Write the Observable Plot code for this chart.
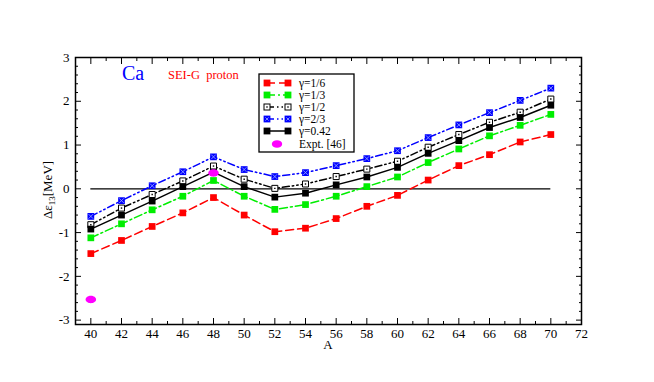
<!DOCTYPE html>
<html>
<head>
<meta charset="utf-8">
<script src="https://cdn.jsdelivr.net/npm/d3@7"></script>
<script src="https://cdn.jsdelivr.net/npm/@observablehq/plot@0.6"></script>
<style>
  html, body { margin: 0; padding: 0; background: #fff; }
  #chart svg text { font-family: 'Liberation Serif', 'Times New Roman', serif !important; }
</style>
</head>
<body>
<div id="chart"></div>
<script>
const A = [40, 42, 44, 46, 48, 50, 52, 54, 56, 58, 60, 62, 64, 66, 68, 70];
const g16 = [-1.48, -1.18, -0.86, -0.55, -0.20, -0.60, -0.98, -0.90, -0.68, -0.40, -0.15, 0.20, 0.53, 0.78, 1.07, 1.24];
const g13 = [-1.12, -0.80, -0.48, -0.17, 0.19, -0.17, -0.47, -0.36, -0.17, 0.05, 0.27, 0.60, 0.91, 1.21, 1.45, 1.70];
const g12 = [-0.82, -0.44, -0.13, 0.18, 0.52, 0.22, 0.01, 0.11, 0.28, 0.45, 0.63, 0.95, 1.24, 1.52, 1.75, 2.05];
const g23 = [-0.63, -0.27, 0.07, 0.39, 0.73, 0.44, 0.28, 0.37, 0.53, 0.69, 0.87, 1.17, 1.46, 1.74, 2.02, 2.30];
const g042 = [-0.92, -0.60, -0.28, 0.05, 0.38, 0.05, -0.19, -0.10, 0.09, 0.27, 0.49, 0.81, 1.10, 1.40, 1.63, 1.91];
const exptA = [40, 48];
const expt = [-2.53, 0.36];

const xMajor = d3.range(40, 73, 2);
const xMinor = d3.range(39, 73, 2);
const yMajor = [-3, -2, -1, 0, 1, 2, 3];
const yMinor = d3.range(-3, 3.01, 0.2).map(v => Math.round(v * 10) / 10).filter(v => !Number.isInteger(v));

const FONT = "'Liberation Serif', 'Times New Roman', serif";

const series = [
  {key: "γ=1/6", vals: g16, color: "#ff0000", dash: "8,4", fill: "#ff0000", kind: "fill"},
  {key: "γ=1/3", vals: g13, color: "#00ee00", dash: "8,3,2,3", fill: "#00ee00", kind: "fill"},
  {key: "γ=1/2", vals: g12, color: "#000000", dash: "7,3,1.5,3,1.5,3", fill: "#ffffff", kind: "open"},
  {key: "γ=2/3", vals: g23, color: "#0000ff", dash: "7,3,1.5,3,1.5,3", fill: "#0000ff", kind: "pattern"},
  {key: "γ=0.42", vals: g042, color: "#000000", dash: null, fill: "#000000", kind: "fill"}
];

const rows = s => A.map((a, i) => ({A: a, v: s.vals[i]}));

const ellipse = {
  draw(ctx, size) {
    const r = Math.sqrt(size / Math.PI);
    const rx = r * 1.25, ry = r * 0.88, k = 0.5523;
    ctx.moveTo(rx, 0);
    ctx.bezierCurveTo(rx, ry * k, rx * k, ry, 0, ry);
    ctx.bezierCurveTo(-rx * k, ry, -rx, ry * k, -rx, 0);
    ctx.bezierCurveTo(-rx, -ry * k, -rx * k, -ry, 0, -ry);
    ctx.bezierCurveTo(rx * k, -ry, rx, -ry * k, rx, 0);
    ctx.closePath();
  }
};

const marks = [];
marks.push(Plot.ruleY([0], {x1: 40, x2: 70, stroke: "#000", strokeWidth: 1.3}));
for (const s of series) {
  marks.push(Plot.line(rows(s), {x: "A", y: "v", stroke: s.color, strokeWidth: 1.5, strokeDasharray: s.dash}));
}
for (const s of series) {
  if (s.kind === "open") {
    marks.push(Plot.dot(rows(s), {x: "A", y: "v", symbol: "square", r: 3.4, fill: "#fff", stroke: "#000", strokeWidth: 1}));
    marks.push(Plot.dot(rows(s), {x: "A", y: "v", symbol: "square", r: 0.8, fill: "#000"}));
  } else if (s.kind === "pattern") {
    marks.push(Plot.dot(rows(s), {x: "A", y: "v", symbol: "square", r: 3.8, fill: s.fill}));
    marks.push(Plot.dot(rows(s), {x: "A", y: "v", symbol: "times", r: 2.2, stroke: "#9fb0ff", strokeWidth: 0.8}));
  } else {
    marks.push(Plot.dot(rows(s), {x: "A", y: "v", symbol: "square", r: 3.8, fill: s.fill}));
  }
}
marks.push(Plot.dot(exptA.map((a, i) => ({A: a, v: expt[i]})), {x: "A", y: "v", symbol: ellipse, r: 4.2, fill: "#ff00ff"}));

// axes: tick labels
const fmt = d => String(d);
marks.push(Plot.axisX({ticks: xMajor, anchor: "bottom", tickSize: 0, tickPadding: 4, tickFormat: fmt, fontSize: 13, fontFamily: FONT, label: null}));
marks.push(Plot.axisY({ticks: yMajor, anchor: "left", tickSize: 0, tickPadding: 6, tickFormat: fmt, fontSize: 13, fontFamily: FONT, label: null}));
// inward ticks on all sides (shifted inside the frame)
const none = () => "";
marks.push(Plot.axisX({ticks: xMajor, anchor: "bottom", tickSize: 6, dy: -6, tickFormat: none, label: null}));
marks.push(Plot.axisX({ticks: xMinor, anchor: "bottom", tickSize: 3, dy: -3, tickFormat: none, label: null}));
marks.push(Plot.axisX({ticks: xMajor, anchor: "top", tickSize: 6, dy: 6, tickFormat: none, label: null}));
marks.push(Plot.axisX({ticks: xMinor, anchor: "top", tickSize: 3, dy: 3, tickFormat: none, label: null}));
marks.push(Plot.axisY({ticks: yMajor, anchor: "left", tickSize: 6, dx: 6, tickFormat: none, label: null}));
marks.push(Plot.axisY({ticks: yMinor, anchor: "left", tickSize: 3, dx: 3, tickFormat: none, label: null}));
marks.push(Plot.axisY({ticks: yMajor, anchor: "right", tickSize: 6, dx: -6, tickFormat: none, label: null}));
marks.push(Plot.axisY({ticks: yMinor, anchor: "right", tickSize: 3, dx: -3, tickFormat: none, label: null}));
marks.push(Plot.frame({stroke: "#000", strokeWidth: 1.5}));

const chart = Plot.plot({
  width: 654,
  height: 382,
  marginLeft: 75,
  marginRight: 73,
  marginTop: 57,
  marginBottom: 58,
  x: {domain: [39, 72]},
  y: {domain: [-3.1, 3]},
  style: {fontFamily: FONT, fontSize: "12px", background: "#fff", color: "#000"},
  marks
});

const svg = d3.select(chart);
const txt = (x, y) => svg.append("text").attr("x", x).attr("y", y).attr("text-anchor", "start").attr("font-family", FONT);

// axis titles
txt(328, 349).attr("text-anchor", "middle").attr("font-size", 13).text("A");
const yl = svg.append("text").attr("transform", "translate(52,190) rotate(-90)").attr("text-anchor", "middle")
  .attr("font-family", FONT).attr("font-size", 13);
yl.append("tspan").text("Δε");
yl.append("tspan").attr("font-size", 9).attr("dy", 3).text("13");
yl.append("tspan").attr("dy", -3).text("[MeV]");

// annotations
txt(122, 80).attr("fill", "#0000ff").attr("font-size", 20).text("Ca");
txt(168, 79).attr("fill", "#ff0000").attr("font-size", 12.5).attr("xml:space", "preserve").text("SEI-G  proton");

// legend
const lg = svg.append("g");
lg.append("rect").attr("x", 259).attr("y", 74).attr("width", 95).attr("height", 78)
  .attr("fill", "#fff").attr("stroke", "#000").attr("stroke-width", 1.3);
const rowY = [83, 95, 107, 119, 131, 144];
series.forEach((s, i) => {
  const y = rowY[i];
  lg.append("line").attr("x1", 267).attr("x2", 288).attr("y1", y).attr("y2", y)
    .attr("stroke", s.color).attr("stroke-width", 1.5).attr("stroke-dasharray", s.dash);
  for (const x of [267, 288]) {
    if (s.kind === "open") {
      lg.append("rect").attr("x", x - 3).attr("y", y - 3).attr("width", 6).attr("height", 6).attr("fill", "#fff").attr("stroke", "#000");
      lg.append("rect").attr("x", x - 0.7).attr("y", y - 0.7).attr("width", 1.4).attr("height", 1.4).attr("fill", "#000");
    } else {
      lg.append("rect").attr("x", x - 3.4).attr("y", y - 3.4).attr("width", 6.8).attr("height", 6.8).attr("fill", s.fill);
      if (s.kind === "pattern") {
        lg.append("path").attr("d", `M${x-1.6},${y-1.6}L${x+1.6},${y+1.6}M${x-1.6},${y+1.6}L${x+1.6},${y-1.6}`).attr("stroke", "#9fb0ff").attr("stroke-width", 0.8);
      }
    }
  }
  lg.append("text").attr("x", 299).attr("y", y + 4).attr("text-anchor", "start").attr("font-family", FONT).attr("font-size", 11.5).text(s.key);
});
lg.append("ellipse").attr("cx", 277).attr("cy", rowY[5]).attr("rx", 5.2).attr("ry", 3.8).attr("fill", "#ff00ff");
lg.append("text").attr("x", 299).attr("y", rowY[5] + 4).attr("text-anchor", "start").attr("font-family", FONT).attr("font-size", 11.5).text("Expt. [46]");

document.getElementById("chart").appendChild(chart);
</script>
</body>
</html>
